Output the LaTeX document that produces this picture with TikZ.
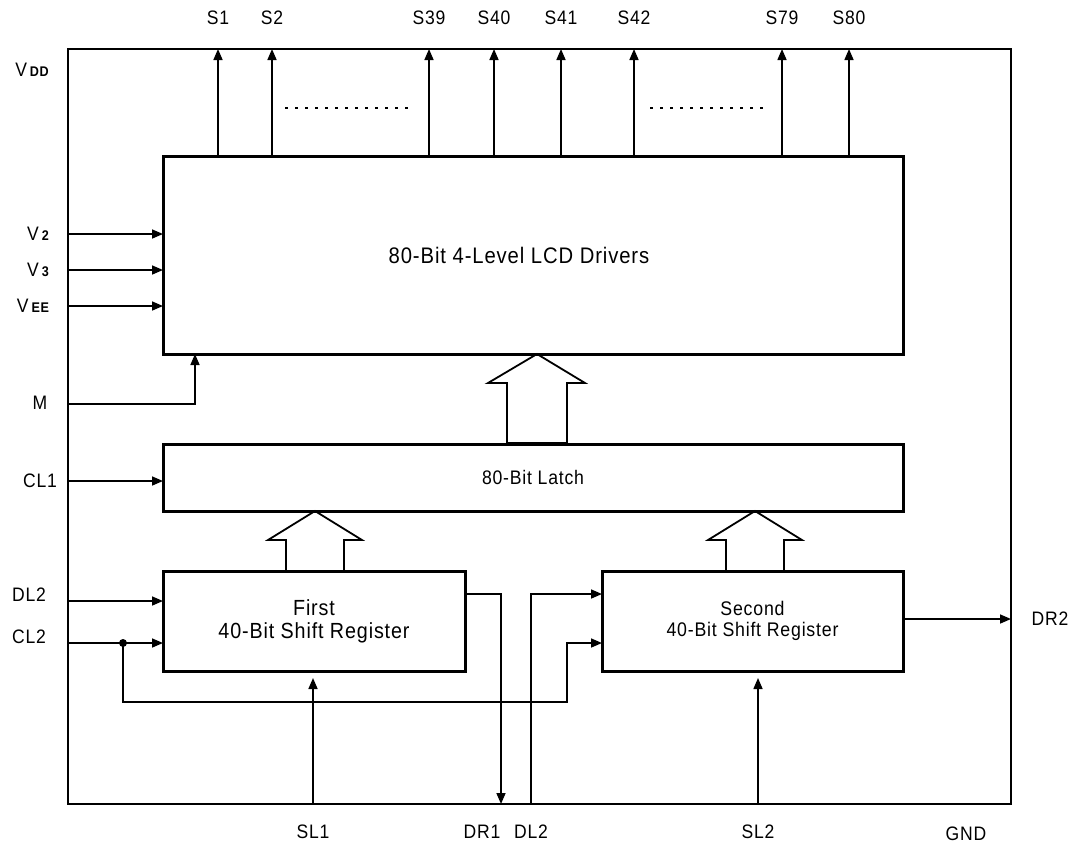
\documentclass[tikz,border=0pt]{standalone}
\usepackage{fontspec}
\setmainfont{Liberation Sans}[FakeStretch=0.9, LetterSpace=4]
\usetikzlibrary{arrows.meta}
\newcommand\mysub[1]{V\hspace{3pt}{\bfseries\fontsize{14}{14}\selectfont #1}}
\begin{document}
\begin{tikzpicture}[x=1pt,y=-1pt,
  lbl/.style={font=\fontsize{19.5}{21}\selectfont, inner sep=0pt},
  box/.style={draw, line width=3pt, inner sep=0pt, outer sep=0pt, anchor=north west, align=center},
  chipbox/.style={draw, line width=2pt, inner sep=0pt, outer sep=0pt, anchor=north west},
  conn/.style={line width=1.6pt},
  arr/.style={conn, -{Triangle[length=11pt,width=9pt]}},
  barr/.style={line width=1.8pt, line join=miter},
  dots/.style={line width=1.4pt, dash pattern=on 3pt off 7pt}]
\useasboundingbox (0,0) rectangle (1073,847);

% blocks
\node[chipbox, minimum width=943pt, minimum height=755pt] (chip) at (68,49) {};
\node[box, minimum width=740pt, minimum height=198pt, font=\fontsize{22.5}{25}\selectfont] (lcd) at (163,156) {\hspace*{-28pt}80-Bit 4-Level LCD Drivers};
\node[box, minimum width=740pt, minimum height=67pt, font=\fontsize{19.6}{22}\selectfont] (latch) at (163,444) {80-Bit Latch};
\node[box, minimum width=302pt, minimum height=100pt, font=\fontsize{21.9}{23}\selectfont] (sr1) at (163,571) {First\\40-Bit Shift Register};
\node[box, minimum width=301pt, minimum height=100pt, font=\fontsize{19.7}{20.5}\selectfont] (sr2) at (602,571) {Second\\40-Bit Shift Register};

% top outputs
\foreach \n/\x in {S1/218, S2/272, S39/429, S40/494, S41/561, S42/634, S79/782, S80/849} {
  \node[lbl] (l\n) at (\x,18) {\n};
  \draw[arr] (lcd.north -| l\n) -- (chip.north -| l\n);
}
\draw[dots] (285,108) -- (415,108);
\draw[dots] (650,108) -- (768,108);

% left labels
\node[lbl] (lvdd) at (32,70) {\mysub{DD}};
\node[lbl] (lv2) at (38,234) {\mysub{2}};
\node[lbl] (lv3) at (38,270) {\mysub{3}};
\node[lbl] (lvee) at (33,306) {\mysub{EE}};
\node[lbl] (lm) at (40,403) {M};
\node[lbl] (lcl1) at (40,481) {CL1};
\node[lbl] (ldl2) at (29,595) {DL2};
\node[lbl] (lcl2) at (29,637) {CL2};

\draw[arr] (chip.west |- lv2) -- (lcd.west |- lv2);
\draw[arr] (chip.west |- lv3) -- (lcd.west |- lv3);
\draw[arr] (chip.west |- lvee) -- (lcd.west |- lvee);
\coordinate (mturn) at (195,404);
\draw[arr] (chip.west |- mturn) -- (mturn) -- (lcd.south -| mturn);
\draw[arr] (chip.west |- lcl1) -- (latch.west |- lcl1);
\coordinate (dl2y) at (0,601);
\draw[arr] (chip.west |- dl2y) -- (sr1.west |- dl2y);
\coordinate (dot) at (123,643);
\draw[arr] (chip.west |- dot) -- (sr1.west |- dot);
\fill (dot) circle (4pt);
\coordinate (loopR) at (567,702);
\coordinate (cl2b) at (567,643);
\draw[arr] (dot) |- (loopR) -- (cl2b) -- (sr2.west |- cl2b);

% bottom labels
\node[lbl] (lsl1) at (313,832) {SL1};
\node[lbl] (ldr1) at (482,832) {DR1};
\node[lbl] (ldl2b) at (531,832) {DL2};
\node[lbl] (lsl2) at (758,832) {SL2};
\node[lbl] (lgnd) at (966,834) {GND};
\node[lbl] (ldr2) at (1050,619) {DR2};

\coordinate (dr1) at (501,594);
\draw[arr] (sr1.east |- dr1) -- (dr1) -- (chip.south -| dr1);
\coordinate (dl2b) at (531,594);
\draw[arr] (chip.south -| dl2b) -- (dl2b) -- (sr2.west |- dl2b);
\draw[arr] (sr2.east |- ldr2) -- (chip.east |- ldr2);
\draw[arr, shorten >=7pt] (chip.south -| lsl1) -- (sr1.south -| lsl1);
\draw[arr, shorten >=7pt] (chip.south -| lsl2) -- (sr2.south -| lsl2);

% block arrows
\coordinate (ba) at (537,0);
\coordinate (bl) at (315,0);
\coordinate (br) at (755,0);
\draw[barr] (lcd.south -| ba) -- ++(48,29) -- ++(-18,0) -- ++(0,60) -- ++(-60,0) -- ++(0,-60) -- ++(-19,0) -- cycle;
\draw[barr] (latch.south -| bl) -- ++(47,29) -- ++(-18,0) -- ++(0,31) -- ++(-58,0) -- ++(0,-31) -- ++(-18,0) -- cycle;
\draw[barr] (latch.south -| br) -- ++(47,29) -- ++(-18,0) -- ++(0,31) -- ++(-58,0) -- ++(0,-31) -- ++(-18,0) -- cycle;
\end{tikzpicture}
\end{document}
